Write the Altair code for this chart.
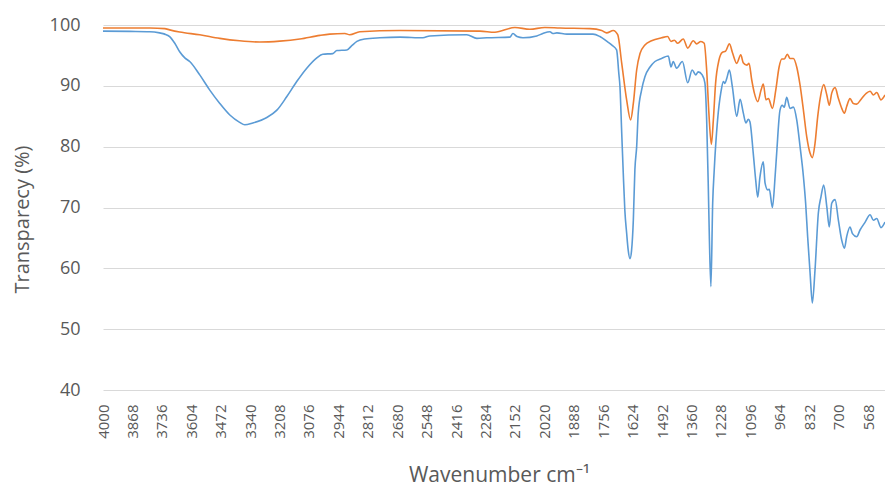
import altair as alt
import pandas as pd

# Spectrum 1: wavenumber (cm-1) and transmittance (%)
wn_1 = [4000, 3880, 3790, 3746, 3723, 3701, 3678, 3656, 3633, 3611,
        3566, 3521, 3476, 3431, 3387, 3364, 3328, 3265, 3220, 3176,
        3131, 3086, 3041, 3014, 2969, 2951, 2906, 2884, 2861, 2826,
        2758, 2668, 2565, 2534, 2368, 2323, 2278, 2175, 2161, 2143,
        2116, 2054, 2027, 1995, 1982, 1964, 1919, 1861, 1802, 1771,
        1739, 1717, 1696, 1686, 1681, 1673, 1666, 1659, 1651, 1644,
        1636, 1629, 1621, 1614, 1606, 1599, 1584, 1569, 1546, 1524,
        1494, 1464, 1452, 1442, 1427, 1401, 1377, 1357, 1341, 1330,
        1312, 1300, 1292, 1285, 1280, 1273, 1265, 1258, 1243, 1228,
        1217, 1210, 1202, 1190, 1177, 1157, 1142, 1128, 1116, 1105,
        1098, 1083, 1072, 1063, 1053, 1038, 1030, 1018, 1011, 997,
        985, 978, 963, 953, 944, 933, 918, 903, 888, 873,
        858, 848, 839, 828, 818, 806, 791, 779, 767, 753,
        742, 731, 716, 701, 686, 674, 664, 649, 638, 619,
        604, 581, 559, 544, 529, 510, 492]
t_1 = [99.0, 98.95, 98.9, 98.7, 98.5, 98.1, 97.0, 95.6, 94.6, 94.0,
       91.8, 89.3, 87.1, 85.2, 84.0, 83.6, 83.9, 84.8, 86.0, 88.2,
       90.7, 92.9, 94.6, 95.2, 95.3, 95.8, 95.9, 96.6, 97.3, 97.7,
       97.9, 98.0, 97.9, 98.2, 98.4, 97.8, 97.9, 98.0, 98.6, 98.1,
       97.9, 98.2, 98.6, 98.9, 98.6, 98.7, 98.5, 98.5, 98.5, 98.1,
       97.3, 96.7, 95.9, 92.0, 89.9, 82.2, 75.5, 69.5, 65.8, 63.0,
       61.6, 62.9, 67.9, 76.2, 80.0, 85.5, 89.3, 91.5, 93.1, 94.0,
       94.5, 94.9, 93.1, 94.0, 92.9, 94.0, 90.5, 92.6, 91.8, 92.3,
       91.8, 90.5, 84.4, 74.0, 65.2, 57.0, 70.7, 76.2, 84.4, 89.0,
       90.7, 90.4, 91.2, 92.6, 89.9, 85.0, 87.8, 85.6, 83.9, 84.5,
       84.1, 78.9, 74.5, 71.7, 75.0, 77.5, 74.0, 72.9, 73.0, 70.0,
       75.1, 78.9, 86.0, 86.8, 86.5, 88.1, 86.3, 86.5, 84.4, 80.0,
       75.1, 70.7, 65.2, 59.2, 54.3, 59.7, 69.1, 71.8, 73.7, 70.1,
       66.8, 70.7, 71.3, 67.9, 64.6, 63.3, 65.2, 66.8, 65.7, 65.2,
       66.3, 67.6, 68.8, 67.9, 68.2, 66.7, 67.6]

# Spectrum 2: wavenumber (cm-1) and transmittance (%)
wn_2 = [4000, 3790, 3723, 3701, 3656, 3566, 3476, 3387, 3297, 3207,
        3117, 3027, 2983, 2915, 2893, 2848, 2668, 2309, 2242, 2152,
        2085, 2018, 1950, 1816, 1763, 1741, 1711, 1691, 1673, 1651,
        1633, 1621, 1606, 1591, 1569, 1539, 1494, 1467, 1452, 1437,
        1422, 1397, 1377, 1352, 1337, 1318, 1303, 1292, 1282, 1271,
        1262, 1252, 1237, 1222, 1207, 1190, 1175, 1157, 1139, 1128,
        1112, 1102, 1090, 1078, 1063, 1048, 1038, 1026, 1015, 997,
        982, 967, 955, 944, 930, 918, 903, 888, 873, 858,
        843, 828, 818, 806, 794, 783, 767, 753, 742, 731,
        716, 701, 686, 674, 664, 649, 634, 619, 599, 578,
        559, 544, 529, 510, 492]
t_2 = [99.5, 99.5, 99.4, 99.2, 98.85, 98.4, 97.8, 97.4, 97.2, 97.35,
       97.7, 98.3, 98.5, 98.6, 98.4, 98.9, 99.1, 99.0, 98.8, 99.6,
       99.3, 99.6, 99.5, 99.4, 99.1, 98.7, 99.1, 98.4, 93.7, 87.7,
       84.4, 87.1, 92.6, 95.3, 96.7, 97.4, 97.9, 98.1, 97.3, 97.5,
       97.0, 97.7, 96.2, 97.4, 96.9, 97.3, 97.0, 92.6, 85.5, 80.4,
       84.4, 90.4, 94.2, 95.5, 95.7, 96.9, 95.3, 93.7, 95.1, 93.8,
       93.4, 93.7, 91.0, 88.8, 87.4, 89.3, 90.3, 87.7, 87.9, 86.3,
       89.3, 93.1, 94.4, 94.4, 95.2, 94.5, 94.5, 93.1, 90.1, 86.0,
       81.6, 78.9, 78.2, 80.5, 84.9, 87.9, 90.2, 88.5, 86.8, 88.8,
       89.7, 87.9, 86.3, 85.5, 86.6, 87.9, 87.1, 87.0, 87.8, 88.7,
       89.1, 88.5, 88.9, 87.7, 88.5]

x_ticks = [4000, 3868, 3736, 3604, 3472, 3340, 3208, 3076, 2944, 2812,
           2680, 2548, 2416, 2284, 2152, 2020, 1888, 1756, 1624, 1492,
           1360, 1228, 1096, 964, 832, 700, 568]
y_ticks = [40, 50, 60, 70, 80, 90, 100]

series_names = ["Spectrum 1", "Spectrum 2"]
series_colors = ["#5B9BD5", "#ED7D31"]

df = pd.concat([
    pd.DataFrame({"wn": wn_1, "t": t_1, "series": series_names[0]}),
    pd.DataFrame({"wn": wn_2, "t": t_2, "series": series_names[1]}),
], ignore_index=True)

FONT = "Open Sans"
TEXT = "#595959"

chart = alt.Chart(df).mark_line(
    strokeWidth=1.6, interpolate="monotone", clip=True
).encode(
    x=alt.X(
        "wn:Q",
        scale=alt.Scale(domain=[4000, 492], nice=False, zero=False),
        axis=alt.Axis(
            values=x_ticks, format="d", labelAngle=270, labelAlign="right",
            labelBaseline="middle", labelPadding=14, ticks=False, tickSize=0,
            domain=False, grid=False, labelOverlap=False, labelFlush=False,
            labelFont=FONT, labelFontSize=15, labelColor=TEXT,
            title="Wavenumber cm⁻¹", titleFont=FONT, titleFontSize=21,
            titleFontWeight="normal", titleColor=TEXT, titleY=91,
            titleX=396, titleBaseline="alphabetic",
        ),
    ),
    y=alt.Y(
        "t:Q",
        scale=alt.Scale(domain=[40, 100], nice=False, zero=False),
        axis=alt.Axis(
            values=y_ticks, ticks=False, tickSize=0, domain=False, grid=True,
            gridColor="#D9D9D9", gridWidth=1, labelPadding=23,
            labelFont=FONT, labelFontSize=18, labelColor=TEXT,
            title="Transparecy (%)", titleFont=FONT, titleFontSize=20,
            titleFontWeight="normal", titleColor=TEXT, titleX=-81,
            titleY=194, titleAngle=270, titleAlign="center",
            titleBaseline="middle",
        ),
    ),
    color=alt.Color(
        "series:N",
        scale=alt.Scale(domain=series_names, range=series_colors),
        legend=None,
    ),
    order=alt.Order("wn:Q", sort="descending"),
).properties(
    width=782,
    height=365,
    padding={"left": 103, "top": 25, "right": 0, "bottom": 98},
    autosize=alt.AutoSizeParams(type="none"),
).configure_view(stroke=None)

chart.save("out.html", embed_options={"renderer": "svg", "actions": False})
